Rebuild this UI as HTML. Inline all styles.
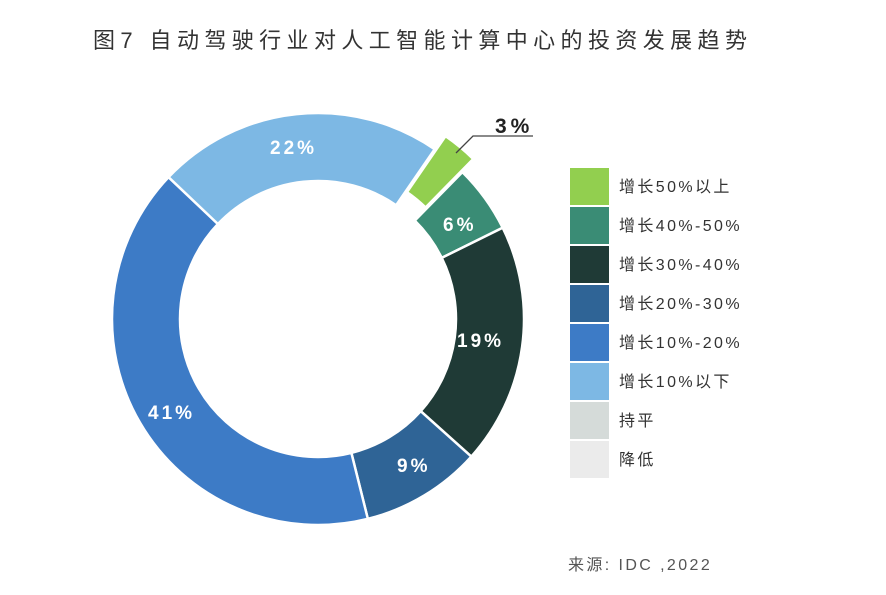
<!DOCTYPE html>
<html><head><meta charset="utf-8"><style>
body{margin:0;background:#fff;width:886px;height:595px;overflow:hidden}
svg{display:block}
text{font-family:"Liberation Sans","Noto Sans CJK SC",sans-serif}
</style></head><body>
<svg id="s" width="886" height="595" viewBox="0 0 886 595">
<text x="93" y="48" font-size="22" fill="#333" letter-spacing="5.4">图7 自动驾驶行业对人工智能计算中心的投资发展趋势</text>
<g id="pie"></g>
<polyline points="456,153 473,136 533,136" fill="none" stroke="#444" stroke-width="1.3"/>
<text x="495" y="133" font-size="21" font-weight="bold" fill="#222" letter-spacing="4">3%</text>
<g font-size="19" font-weight="bold" fill="#fff" letter-spacing="3">
<text x="270" y="154">22%</text>
<text x="443" y="231">6%</text>
<text x="457" y="347">19%</text>
<text x="397" y="472">9%</text>
<text x="148" y="419">41%</text>
</g>
<g id="leg" font-size="16" fill="#333" letter-spacing="2.4"></g>
<text x="568" y="570" font-size="16" fill="#555" letter-spacing="2.4">来源: IDC ,2022</text>
</svg>
<script>
var cx=318,cy=319,R=206,r=138;
var d=[[34.5,44.5,"#92cf4f"],[44.5,63.7,"#3a8c75"],[63.7,131.9,"#1f3a36"],[131.9,166,"#2f6496"],[166,313.5,"#3d7bc6"],[313.5,394.5,"#7db8e4"]];
var h="";
function p(an,rad,ox,oy){var t=an*Math.PI/180;return (cx+ox+rad*Math.sin(t)).toFixed(2)+","+(cy+oy-rad*Math.cos(t)).toFixed(2);}
d.forEach(function(e,i){var s=e[0],en=e[1];var ox=0,oy=0,RR=R;
if(i==0){var m=(s+en)/2*Math.PI/180;ox=17*Math.sin(m);oy=-17*Math.cos(m);}
var lg=(en-s)>180?1:0;
h+='<path d="M'+p(s,RR,ox,oy)+' A'+RR+','+RR+' 0 '+lg+' 1 '+p(en,RR,ox,oy)+' L'+p(en,r,ox,oy)+' A'+r+','+r+' 0 '+lg+' 0 '+p(s,r,ox,oy)+' Z" fill="'+e[2]+'" stroke="#fff" stroke-width="2.5"/>';});
document.getElementById("pie").innerHTML=h;
var L=[["增长50%以上","#92cf4f"],["增长40%-50%","#3a8c75"],["增长30%-40%","#1f3a36"],["增长20%-30%","#2f6496"],["增长10%-20%","#3d7bc6"],["增长10%以下","#7db8e4"],["持平","#d5dbd9"],["降低","#ebebeb"]];
var g="";L.forEach(function(e,i){var y=168+i*39;g+='<rect x="570" y="'+y+'" width="39" height="37" fill="'+e[1]+'"/><text x="619" y="'+(y+24)+'">'+e[0]+'</text>';});
document.getElementById("leg").innerHTML=g;
</script>
</body></html>
